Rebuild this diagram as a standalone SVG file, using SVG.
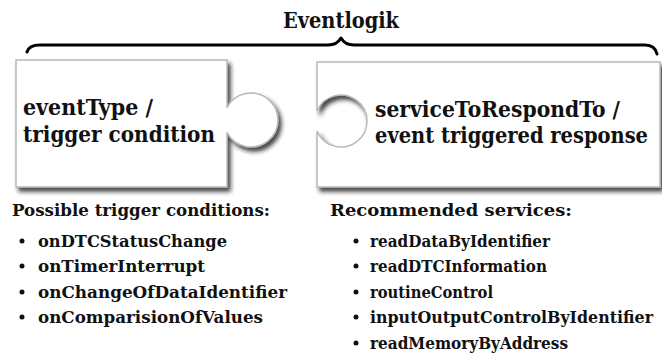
<svg xmlns="http://www.w3.org/2000/svg" width="662" height="354" viewBox="0 0 662 354">
  <defs>
    <filter id="drop" x="-10%" y="-10%" width="125%" height="130%">
      <feDropShadow dx="3" dy="4" stdDeviation="2" flood-color="#1a1a1a" flood-opacity="0.8"/>
    </filter>
  </defs>
  <style>
    .piece { fill: #ffffff; stroke: #b8b8b8; stroke-width: 1.5; filter: url(#drop); }
    .brace { fill: none; stroke: #000000; stroke-width: 3; stroke-linecap: round; stroke-linejoin: round; }
    .t { font-family: "DejaVu Serif", "Liberation Serif", serif; font-weight: bold; fill: #111111; }
    .title { font-size: 23px; }
    .big { font-size: 23px; }
    .list { font-size: 17px; }
    .list2 { font-size: 16px; }
    .dot { fill: #111111; }
  </style>

  <rect width="662" height="354" fill="#ffffff"/>

  <!-- title and brace -->
  <g id="title">
    <text class="t title" x="283" y="28" textLength="116" lengthAdjust="spacingAndGlyphs">Eventlogik</text>
  </g>
  <g id="connectors">
    <path class="brace" d="M27,52 Q29,45 40,45 H328 Q337,45 341,38 Q345,45 354,45 H645 Q655,45 657,54"/>
  </g>

  <!-- left puzzle piece with knob -->
  <g id="trigger">
    <path class="piece" d="M16,60 H227 V107.6 A27,27 0 1 1 227,132.4 V187 H16 Z"/>
    <text class="t big" x="23" y="115" textLength="130" lengthAdjust="spacingAndGlyphs">eventType /</text>
    <text class="t big" x="23" y="142" textLength="192" lengthAdjust="spacingAndGlyphs">trigger condition</text>
  </g>

  <!-- right puzzle piece with socket -->
  <g id="response">
    <path class="piece" d="M317,62 H660 V187 H317 V131 A26,26 0 1 0 317,111 Z"/>
    <g transform="translate(375 0) scale(0.87 1)">
      <text class="t big" x="0" y="117" textLength="281.6" lengthAdjust="spacingAndGlyphs">serviceToRespondTo /</text>
      <text class="t big" x="0" y="143" textLength="313.8" lengthAdjust="spacingAndGlyphs">event triggered response</text>
    </g>
  </g>

  <!-- trigger condition list -->
  <g id="trigger-list">
    <text class="t list" x="12" y="216" textLength="258" lengthAdjust="spacingAndGlyphs">Possible trigger conditions:</text>
    <circle class="dot" cx="22" cy="241" r="2.5"/>
    <text class="t list" x="38" y="247" textLength="189" lengthAdjust="spacingAndGlyphs">onDTCStatusChange</text>
    <circle class="dot" cx="22" cy="266" r="2.5"/>
    <text class="t list" x="38" y="272" textLength="167" lengthAdjust="spacingAndGlyphs">onTimerInterrupt</text>
    <circle class="dot" cx="22" cy="292" r="2.5"/>
    <text class="t list" x="38" y="298" textLength="249" lengthAdjust="spacingAndGlyphs">onChangeOfDataIdentifier</text>
    <circle class="dot" cx="22" cy="317" r="2.5"/>
    <text class="t list" x="38" y="323" textLength="225" lengthAdjust="spacingAndGlyphs">onComparisionOfValues</text>
  </g>

  <!-- recommended services list -->
  <g id="service-list">
    <text class="t list" x="330" y="216" textLength="242" lengthAdjust="spacingAndGlyphs">Recommended services:</text>
    <circle class="dot" cx="356" cy="241" r="2.5"/>
    <text class="t list2" x="370" y="247" textLength="180" lengthAdjust="spacingAndGlyphs">readDataByIdentifier</text>
    <circle class="dot" cx="356" cy="266" r="2.5"/>
    <text class="t list2" x="370" y="272" textLength="177" lengthAdjust="spacingAndGlyphs">readDTCInformation</text>
    <circle class="dot" cx="356" cy="292" r="2.5"/>
    <text class="t list2" x="370" y="298" textLength="123" lengthAdjust="spacingAndGlyphs">routineControl</text>
    <circle class="dot" cx="356" cy="317" r="2.5"/>
    <text class="t list2" x="370" y="323" textLength="283" lengthAdjust="spacingAndGlyphs">inputOutputControlByIdentifier</text>
    <circle class="dot" cx="356" cy="343" r="2.5"/>
    <text class="t list2" x="370" y="349" textLength="198" lengthAdjust="spacingAndGlyphs">readMemoryByAddress</text>
  </g>
</svg>
